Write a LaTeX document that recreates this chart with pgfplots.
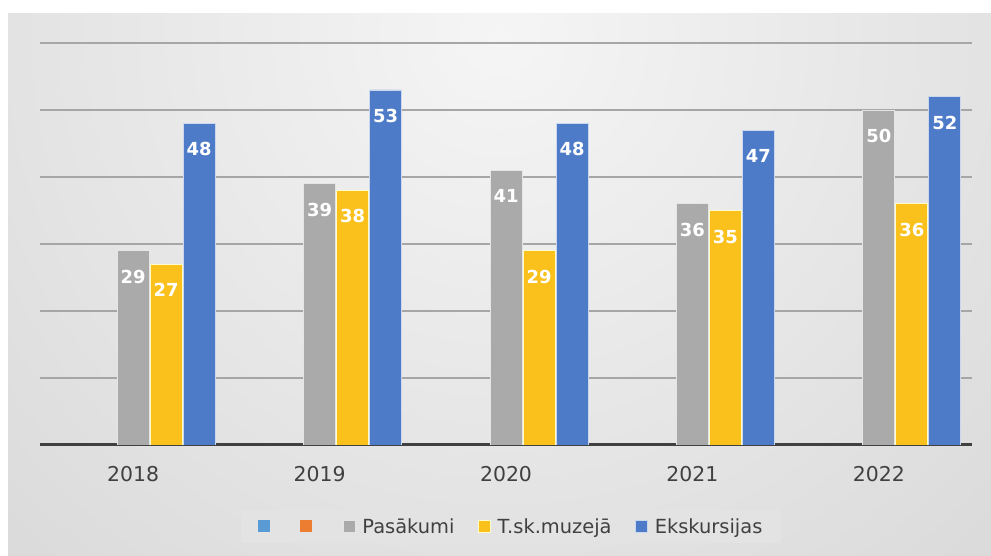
\documentclass[border=0pt]{standalone}
\usepackage{pgfplots}
\pgfplotsset{compat=1.18}
\usepackage{fontspec}
\setmainfont{DejaVu Sans}
\definecolor{bgin}{HTML}{F5F5F5}
\definecolor{bgout}{HTML}{BDBDBD}
\definecolor{gridc}{HTML}{A6A6A6}
\definecolor{basec}{HTML}{404040}
\definecolor{cgray}{HTML}{AAAAAA}
\definecolor{cyel}{HTML}{FAC11C}
\definecolor{cblue}{HTML}{4E7BC8}
\definecolor{lblue}{HTML}{5B9BD5}
\definecolor{lorange}{HTML}{ED7D31}
\definecolor{legbg}{HTML}{E3E3E3}
\definecolor{txt}{HTML}{404040}
\pgfplotstableread{
x g y b
0 29 27 48
1 39 38 53
2 41 29 48
3 36 35 47
4 50 36 52
}\datatab
\begin{document}
\begin{tikzpicture}[x=1bp,y=1bp]
\path[use as bounding box] (0,0) rectangle (991,556);
\fill[white] (0,0) rectangle (991,556);
\begin{scope}
\clip (8,0) rectangle (991,542);
\shade[inner color=bgin, outer color=bgout] (500,520) circle (1500);
\end{scope}
\begin{axis}[
  at={(40bp,111bp)}, anchor=south west,
  scale only axis, width=932bp, height=402bp,
  xmin=-0.5, xmax=4.5, ymin=0, ymax=60,
  xtick={0,1,2,3,4}, xticklabels={2018,2019,2020,2021,2022},
  ytick={10,20,30,40,50,60}, yticklabels={},
  extra y ticks={0}, extra y tick labels={},
  extra y tick style={grid style={draw=basec, line width=3bp}},
  ymajorgrids, grid style={draw=gridc, line width=1.4bp},
  major tick length=0pt,
  axis line style={draw=none},
  xticklabel style={font=\fontsize{20.5}{24}\selectfont, text=txt, anchor=base, yshift=-37bp},
  ybar, bar width=32bp,
  /pgf/number format/assume math mode=true,
  nodes near coords,
  every node near coord/.append style={font=\fontsize{18}{22}\selectfont\bfseries, text=white, anchor=center, yshift=-26bp},
  legend columns=5,
  legend style={at={(0.5054,-0.2027)}, anchor=center, draw=none, fill=legbg,
    font=\fontsize{19.5}{23}\selectfont, text=txt,
    inner xsep=17bp, inner ysep=6bp,
    /tikz/every odd column/.append style={column sep=5bp},
    /tikz/every even column/.append style={column sep=21.5bp}},
  legend image code/.code={\fill[#1] (0bp,-6bp) rectangle (12bp,6bp);},
]
\addlegendimage{fill=lblue, draw=none}
\addlegendentry{}
\addlegendimage{fill=lorange, draw=none}
\addlegendentry{}
\addplot[fill=cgray, draw=white!80!gray, line width=0.7bp, bar shift=0bp] table[x=x, y=g] {\datatab};
\addlegendentry{Pasākumi}
\addplot[fill=cyel, draw=white!80!yellow, line width=0.7bp, bar shift=33bp] table[x=x, y=y] {\datatab};
\addlegendentry{T.sk.muzejā}
\addplot[fill=cblue, draw=white!70!cblue, line width=0.7bp, bar shift=66bp] table[x=x, y=b] {\datatab};
\addlegendentry{Ekskursijas}
\end{axis}
\end{tikzpicture}
\end{document}
